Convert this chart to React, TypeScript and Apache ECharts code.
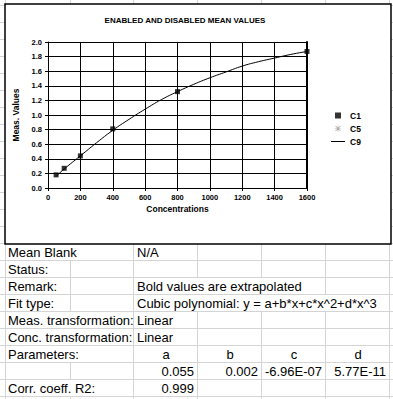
import React, { useEffect, useRef } from "react";
import * as echarts from "echarts";

// ---------- chart data ----------
const chartTitle = "ENABLED AND DISABLED MEAN VALUES";
const xAxisName = "Concentrations";
const yAxisName = "Meas. Values";
const seriesNames = ["C1", "C5", "C9"];
const concentrations = [50, 100, 200, 400, 800, 1600];
const c1Values = [0.18, 0.27, 0.44, 0.81, 1.32, 1.87];
const c5Points: number[][] = [];
const curveConcentrations = [50, 100, 200, 300, 400, 500, 600, 700, 800, 900, 1000, 1100, 1200, 1300, 1400, 1500, 1600];
const curveValues = [0.16, 0.26, 0.44, 0.62, 0.79, 0.94, 1.08, 1.21, 1.32, 1.42, 1.51, 1.59, 1.67, 1.73, 1.78, 1.83, 1.87];

// ---------- table data ----------
const rowLabels = [
  "Mean Blank",
  "Status:",
  "Remark:",
  "Fit type:",
  "Meas. transformation:",
  "Conc. transformation:",
  "Parameters:",
  "",
  "Corr. coeff. R2:",
];
const rowTexts = [
  "N/A",
  "",
  "Bold values are extrapolated",
  "Cubic polynomial: y = a+b*x+c*x^2+d*x^3",
  "Linear",
  "Linear",
  "",
  "",
  "",
];
const paramNames = ["a", "b", "c", "d"];
const paramValues = ["0.055", "0.002", "-6.96E-07", "5.77E-11"];
const r2Value = "0.999";

// ---------- layout ----------
const FONT = "Arial, 'Liberation Sans', sans-serif";
const W = 393;
const H = 399;
const colEdges = [5, 70, 133, 197, 261, 325, 389];
const rowH = 17;
const tableTop = 243;
const hiddenEdges: number[][] = [[1], [], [3, 4], [3, 4, 5], [1], [1], [1], [], [1]];
const asterisk =
  "path://M4.4 0H5.6V10H4.4Z M0 4.4H10V5.6H0Z M1.3 0.4L9.6 8.7L8.7 9.6L0.4 1.3Z M8.7 0.4L9.6 1.3L1.3 9.6L0.4 8.7Z";

function buildGraphics() {
  const els: any[] = [];
  const grid = "#d4d4d4";
  for (let y = tableTop + rowH - 17 * 15; y <= H; y += rowH) {
    els.push({ type: "line", z: -20, silent: true, shape: { x1: 0, y1: y + 0.5, x2: W, y2: y + 0.5 }, style: { stroke: grid, lineWidth: 1 } });
  }
  colEdges.forEach((x) => {
    els.push({ type: "line", z: -20, silent: true, shape: { x1: x + 0.5, y1: 0, x2: x + 0.5, y2: tableTop }, style: { stroke: grid, lineWidth: 1 } });
  });
  for (let r = 0; r < rowLabels.length + 1; r++) {
    const y0 = tableTop + r * rowH;
    colEdges.forEach((x, ci) => {
      if (hiddenEdges[r] && hiddenEdges[r].indexOf(ci) >= 0) return;
      els.push({ type: "line", z: -20, silent: true, shape: { x1: x + 0.5, y1: y0, x2: x + 0.5, y2: Math.min(H, y0 + rowH) }, style: { stroke: grid, lineWidth: 1 } });
    });
  }
  els.push({ type: "rect", z: -10, silent: true, shape: { x: 5, y: 4, width: 386, height: 240 }, style: { fill: "#fff", stroke: "#000", lineWidth: 1.5 } });
  els.push({ type: "text", z: 10, x: 185, y: 20, style: { text: chartTitle, font: `bold 8px ${FONT}`, fill: "#000", textAlign: "center", textVerticalAlign: "middle" } });
  const tf = `13px ${FONT}`;
  rowLabels.forEach((t, i) => {
    const cy = tableTop + i * rowH + 9;
    if (t) els.push({ type: "text", z: 10, x: 8, y: cy, style: { text: t, font: tf, fill: "#000", textAlign: "left", textVerticalAlign: "middle" } });
    if (rowTexts[i]) els.push({ type: "text", z: 10, x: 137, y: cy, style: { text: rowTexts[i], font: tf, fill: "#000", textAlign: "left", textVerticalAlign: "middle" } });
  });
  const pNameRow = 6;
  const pValRow = 7;
  const r2Row = 8;
  paramNames.forEach((t, i) => {
    const cx = (colEdges[2 + i] + colEdges[3 + i]) / 2 + 1;
    els.push({ type: "text", z: 10, x: cx, y: tableTop + pNameRow * rowH + 9, style: { text: t, font: tf, fill: "#000", textAlign: "center", textVerticalAlign: "middle" } });
  });
  paramValues.forEach((t, i) => {
    const rx = colEdges[3 + i] - 3;
    els.push({ type: "text", z: 10, x: rx, y: tableTop + pValRow * rowH + 9, style: { text: t, font: tf, fill: "#000", textAlign: "right", textVerticalAlign: "middle" } });
  });
  els.push({ type: "text", z: 10, x: colEdges[3] - 3, y: tableTop + r2Row * rowH + 9, style: { text: r2Value, font: tf, fill: "#000", textAlign: "right", textVerticalAlign: "middle" } });
  return els;
}

export default function App() {
  const ref = useRef<HTMLDivElement>(null);
  useEffect(() => {
    if (!ref.current) return;
    const chart = echarts.init(ref.current, undefined, { renderer: "svg", width: W, height: H });
    const axisLabel = { color: "#000", fontSize: 7.5, fontWeight: "bold" as const, fontFamily: FONT };
    chart.setOption({
      animation: false,
      backgroundColor: "#fff",
      graphic: buildGraphics(),
      grid: { left: 48, right: 86, top: 42, bottom: 211, containLabel: false },
      legend: {
        orient: "vertical",
        left: 326,
        top: 106,
        itemWidth: 14,
        itemHeight: 6,
        itemGap: 4,
        symbolKeepAspect: true,
        textStyle: { color: "#000", fontSize: 8.5, fontWeight: "bold", fontFamily: FONT, lineHeight: 9 },
        data: [
          { name: seriesNames[0], icon: "path://M0 0H10V10H0Z" },
          { name: seriesNames[1], icon: asterisk, itemStyle: { color: "#999" } },
          { name: seriesNames[2], icon: "path://M0 0H14V1H0Z" },
        ],
      },
      xAxis: {
        type: "value",
        min: 0,
        max: 1600,
        interval: 200,
        name: xAxisName,
        nameLocation: "middle",
        nameGap: 16,
        nameTextStyle: { color: "#000", fontSize: 8.5, fontWeight: "bold", fontFamily: FONT },
        axisLine: { show: true, lineStyle: { color: "#000", width: 1 } },
        axisTick: { show: true, length: 3, lineStyle: { color: "#000" } },
        axisLabel: { ...axisLabel, margin: 5, formatter: (v: number) => String(v) },
        splitLine: { show: true, lineStyle: { color: "#000", width: 1 } },
      },
      yAxis: [
        {
          type: "value",
          min: 0,
          max: 2,
          interval: 0.2,
          name: yAxisName,
          nameLocation: "middle",
          nameGap: 20,
          nameTextStyle: { color: "#000", fontSize: 8.5, fontWeight: "bold", fontFamily: FONT },
          axisLine: { show: true, lineStyle: { color: "#000", width: 1 } },
          axisTick: { show: true, length: 3, lineStyle: { color: "#000" } },
          axisLabel: { ...axisLabel, margin: 6, formatter: (v: number) => v.toFixed(1) },
          splitLine: { show: true, lineStyle: { color: "#000", width: 1 } },
        },
        {
          type: "value",
          position: "right",
          min: 0,
          max: 2,
          interval: 0.2,
          axisLine: { show: true, lineStyle: { color: "#000", width: 2 } },
          axisTick: { show: false },
          axisLabel: { show: false },
          splitLine: { show: false },
        },
      ],
      series: [
        {
          name: seriesNames[0],
          type: "scatter",
          data: concentrations.map((c, i) => [c, c1Values[i]]),
          symbol: "rect",
          symbolSize: 5,
          clip: false,
          itemStyle: { color: "#000" },
          z: 5,
        },
        {
          name: seriesNames[1],
          type: "scatter",
          data: c5Points,
          symbol: asterisk,
          symbolSize: 6,
          itemStyle: { color: "#999" },
        },
        {
          name: seriesNames[2],
          type: "line",
          data: curveConcentrations.map((c, i) => [c, curveValues[i]]),
          smooth: true,
          showSymbol: false,
          symbol: "none",
          clip: false,
          lineStyle: { color: "#000", width: 1 },
          itemStyle: { color: "#000" },
        },
      ],
    });
    return () => chart.dispose();
  }, []);
  return (
    <div
      ref={ref}
      style={{ position: "absolute", left: 0, top: 0, width: W, height: H, background: "#fff" }}
    />
  );
}
